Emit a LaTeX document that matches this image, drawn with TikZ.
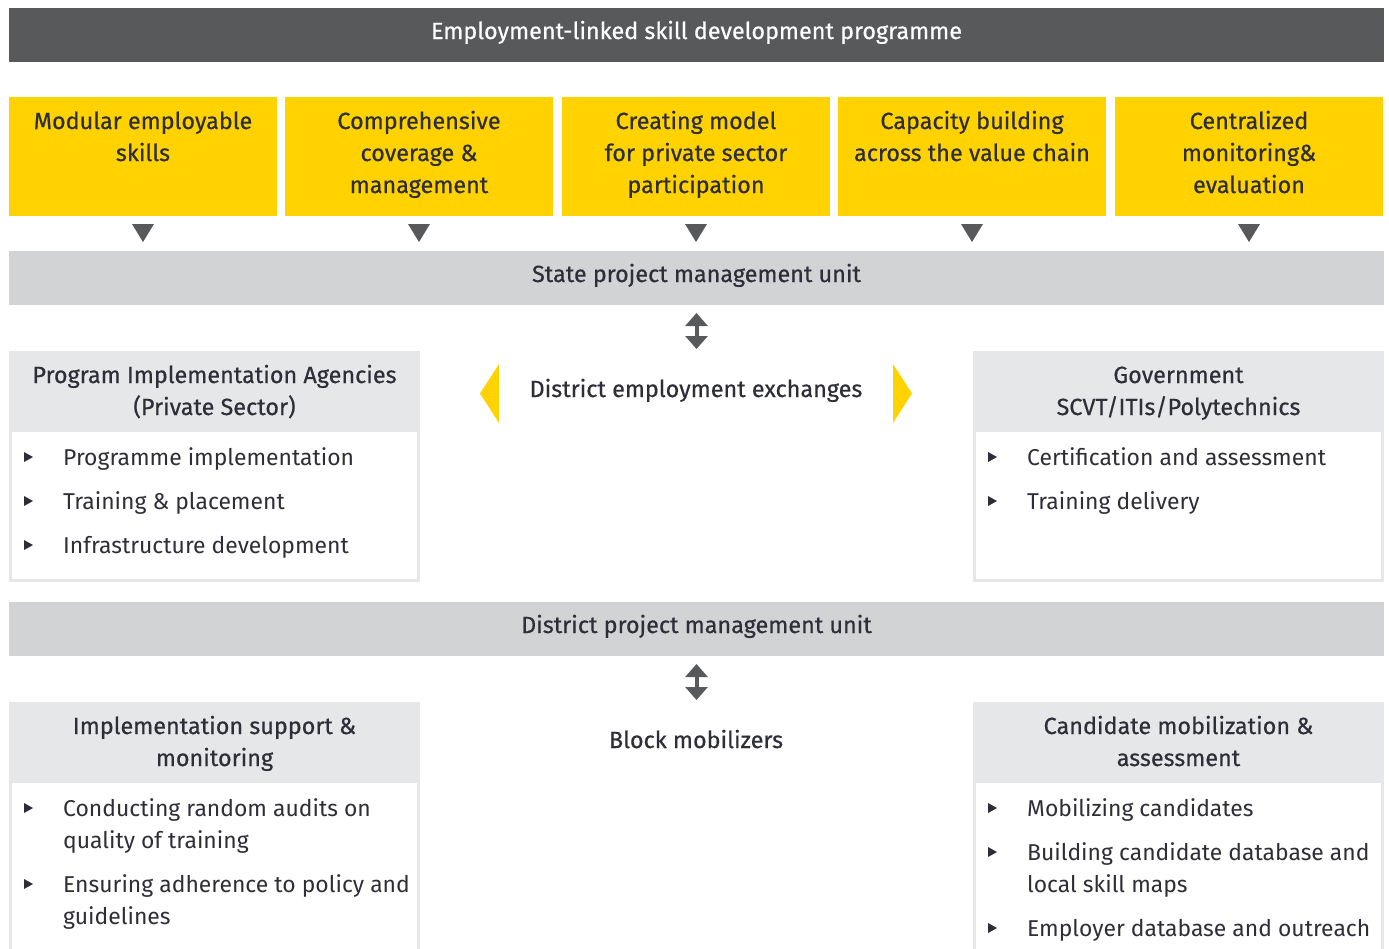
\documentclass[tikz,border=0pt]{standalone}
\usepackage{fontspec}
\setmainfont{Fira Sans}
\newfontfamily\medfont[FakeBold=0.5]{Fira Sans}
\usetikzlibrary{arrows.meta}

\definecolor{barDark}{HTML}{58595B}
\definecolor{eyYellow}{HTML}{FFD200}
\definecolor{barLight}{HTML}{D2D3D5}
\definecolor{headFill}{HTML}{E6E7E8}
\definecolor{ink}{HTML}{2E2E38}

% multi-line nodes below are placed by the baseline of their last line
\tikzset{
  ttl/.style={anchor=base, inner sep=0, font=\medfont\fontsize{23.4}{32}\selectfont, text=ink, align=center},
  itm/.style={anchor=base west, inner sep=0, font=\fontsize{22.9}{32}\selectfont, text=ink, align=left},
  downtri/.style={fill=barDark},
  twoway/.style={draw=barDark, line width=4pt,
    {Triangle[width=22pt,length=13pt]}-{Triangle[width=22pt,length=13pt]}},
  bodybox/.style={draw=headFill, line width=3pt, fill=white},
}
% small right-pointing bullet, #1 = x, #2 = baseline
\newcommand{\bulletmark}[2]{\fill[ink] (#1,#2-13) -- (#1,#2-3) -- (#1+9,#2-8) -- cycle;}

\begin{document}
\begin{tikzpicture}[x=1pt,y=-1pt]
\useasboundingbox (0,0) rectangle (1389,948);

% ---------- top title band ----------
\fill[barDark] (9,8) rectangle (1384,62);
\node[ttl, text=white] (title) at (696.5,39) {Employment-linked skill development programme};

% ---------- five pillars ----------
\foreach \xa/\xb/\nm in {9/277/p1, 285/553/p2, 562/830/p3, 838/1106/p4, 1115/1383/p5}{
  \fill[eyYellow] (\xa,97) rectangle (\xb,216);
  \coordinate (\nm) at ({(\xa+\xb)/2},97);
  \fill[downtri] ({(\xa+\xb)/2-11},224) -- ({(\xa+\xb)/2+11},224) -- ({(\xa+\xb)/2},242) -- cycle;
}
\node[ttl] (t1) at (143,161) {Modular employable\\skills};
\node[ttl] (t2) at (419,193) {Comprehensive\\coverage \&\\management};
\node[ttl] (t3) at (696,193) {Creating model\\for private sector\\participation};
\node[ttl] (t4) at (972,161) {Capacity building\\across the value chain};
\node[ttl] (t5) at (1249,193) {Centralized\\monitoring\&\\evaluation};

% ---------- state PMU ----------
\fill[barLight] (9,251) rectangle (1384,305);
\coordinate (spmu) at (696.5,305);
\node[ttl] (spmuT) at (696.5,282) {State project management unit};
\coordinate (dee) at (696.5,351);
\draw[twoway] (spmu) ++(0,8) -- ([yshift=2pt]dee);

% ---------- state level boxes ----------
\draw[bodybox] (10.5,352.5) rectangle (418.5,580.5);
\fill[headFill] (9,351) rectangle (420,432);
\node[ttl] (piaT) at (214.5,415) {Program Implementation Agencies\\(Private Sector)};
\node[itm] (pia1) at (63,465) {Programme implementation};
\node[itm] (pia2) at (63,509) {Training \& placement};
\node[itm] (pia3) at (63,553) {Infrastructure development};
\bulletmark{24}{465}\bulletmark{24}{509}\bulletmark{24}{553}

\node[ttl] (deeT) at (696,397) {District employment exchanges};
\fill[eyYellow] (499,364) -- (499,423) -- (480,393.5) -- cycle;
\fill[eyYellow] (893,364) -- (893,423) -- (912,393.5) -- cycle;

\draw[bodybox] (974.5,352.5) rectangle (1382.5,580.5);
\fill[headFill] (973,351) rectangle (1384,432);
\node[ttl] (govT) at (1178.5,415) {Government\\SCVT/ITIs/Polytechnics};
\node[itm] (gov1) at (1027,465) {Certification and assessment};
\node[itm] (gov2) at (1027,509) {Training delivery};
\bulletmark{988}{465}\bulletmark{988}{509}

% ---------- district PMU ----------
\fill[barLight] (9,602) rectangle (1384,656);
\coordinate (dpmu) at (696.5,656);
\node[ttl] (dpmuT) at (696.5,633) {District project management unit};
\coordinate (blk) at (696.5,702);
\draw[twoway] (dpmu) ++(0,8) -- ([yshift=2pt]blk);

% ---------- district level boxes ----------
\begin{scope}
\clip (0,0) rectangle (1389,948);
\draw[bodybox] (10.5,703.5) rectangle (418.5,970);
\fill[headFill] (9,702) rectangle (420,783);
\draw[bodybox] (974.5,703.5) rectangle (1382.5,970);
\fill[headFill] (973,702) rectangle (1384,783);
\end{scope}

\node[ttl] (ismT) at (214.5,766) {Implementation support \&\\monitoring};
\node[itm] (ism1) at (63,848) {Conducting random audits on\\quality of training};
\node[itm] (ism2) at (63,924) {Ensuring adherence to policy and\\guidelines};
\bulletmark{24}{816}\bulletmark{24}{892}

\node[ttl] (blkT) at (696,748) {Block mobilizers};

\node[ttl] (cmaT) at (1178.5,766) {Candidate mobilization \&\\assessment};
\node[itm] (cma1) at (1027,816) {Mobilizing candidates};
\node[itm] (cma2) at (1027,892) {Building candidate database and\\local skill maps};
\node[itm] (cma3) at (1027,936) {Employer database and outreach};
\bulletmark{988}{816}\bulletmark{988}{860}\bulletmark{988}{936}
\end{tikzpicture}
\end{document}
